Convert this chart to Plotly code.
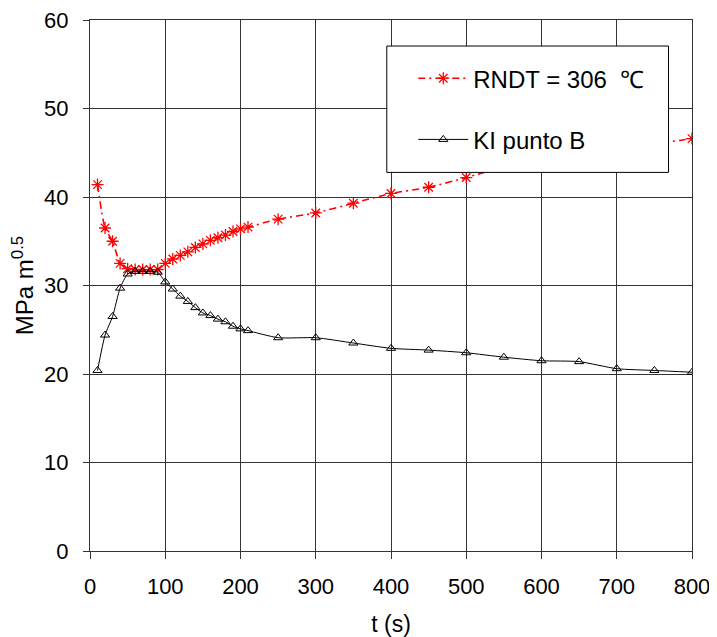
import plotly.graph_objects as go

# time (s)
t = [10, 20, 30, 40, 50, 60, 70, 80, 90, 100, 110, 120, 130, 140, 150, 160,
     170, 180, 190, 200, 210, 250, 300, 350, 400, 450, 500, 550, 600, 650,
     700, 750, 800]

# RNDT = 306 °C
rndt = [41.4, 36.5, 35.0, 32.5, 31.9, 31.8, 31.8, 31.8, 31.8, 32.5, 33.0, 33.4,
        33.8, 34.3, 34.7, 35.1, 35.4, 35.7, 36.1, 36.4, 36.6, 37.5, 38.2, 39.3,
        40.4, 41.1, 42.2, 43.4, 44.1, 44.8, 45.4, 46.0, 46.6]

# KI punto B
ki_b = [20.4, 24.4, 26.5, 29.7, 31.3, 31.6, 31.6, 31.6, 31.5, 30.4, 29.6, 28.8,
        28.2, 27.5, 26.9, 26.6, 26.2, 25.9, 25.4, 25.1, 24.9, 24.1, 24.1, 23.5,
        22.9, 22.7, 22.4, 21.9, 21.5, 21.4, 20.6, 20.4, 20.2]

x_ticks = [0, 100, 200, 300, 400, 500, 600, 700, 800]
y_ticks = [0, 10, 20, 30, 40, 50, 60]

FONT = "Liberation Sans, Arial, sans-serif"

fig = go.Figure()
fig.add_trace(go.Scatter(
    x=t, y=rndt, name="RNDT = 306  ℃", mode="lines+markers",
    line=dict(color="#FF0000", width=1.6, dash="7px,4px,2px,4px",
              shape="spline", smoothing=0.6),
    marker=dict(symbol="asterisk-open", size=10, color="#FF0000",
                line=dict(color="#FF0000", width=1.3)),
    legendgroup="a",
))
fig.add_trace(go.Scatter(
    x=t, y=ki_b, name="KI punto B", mode="lines+markers",
    line=dict(color="#000000", width=1, shape="spline", smoothing=0.6),
    marker=dict(symbol="triangle-up-open", size=8, color="#000000",
                line=dict(color="#000000", width=1)),
    legendgroup="b",
))

# legend frame
fig.add_shape(type="rect", xref="paper", yref="paper",
              x0=0.493, x1=0.961, y0=0.713, y1=0.951,
              line=dict(color="#000000", width=1), fillcolor="#FFFFFF",
              layer="above")

# the page body adds an 8px offset, so the figure is 8px smaller
fig.update_layout(
    width=709, height=629,
    margin=dict(l=81.5, r=24.7, t=12, b=85.7),
    paper_bgcolor="#FFFFFF", plot_bgcolor="#FFFFFF",
    font=dict(family=FONT, size=22, color="#000000"),
    showlegend=True,
    legend=dict(x=0.537, y=0.932, xanchor="left", yanchor="top",
                bgcolor="rgba(0,0,0,0)", borderwidth=0,
                font=dict(family=FONT, size=24, color="#000000"),
                tracegroupgap=27, itemwidth=50),
    xaxis=dict(range=[0, 800], tickvals=x_ticks, ticktext=[str(v) for v in x_ticks],
               showgrid=True, gridcolor="#333333", gridwidth=1,
               showline=True, linecolor="#333333", linewidth=1, mirror=True,
               ticks="outside", ticklen=7, tickcolor="#333333",
               ticklabelstandoff=9, ticklabeloverflow="allow",
               zeroline=False, automargin=False,
               title=dict(text="t (s)", font=dict(size=23), standoff=19)),
    yaxis=dict(range=[0, 60], tickvals=y_ticks, ticktext=[str(v) for v in y_ticks],
               showgrid=True, gridcolor="#333333", gridwidth=1,
               showline=True, linecolor="#333333", linewidth=1, mirror=True,
               ticks="outside", ticklen=6, tickcolor="#333333",
               ticklabelstandoff=10, ticklabeloverflow="allow",
               zeroline=False, automargin=False,
               title=dict(text="MPa m<sup>0.5</sup>", font=dict(size=24), standoff=3)),
)

fig.write_html("out.html")
